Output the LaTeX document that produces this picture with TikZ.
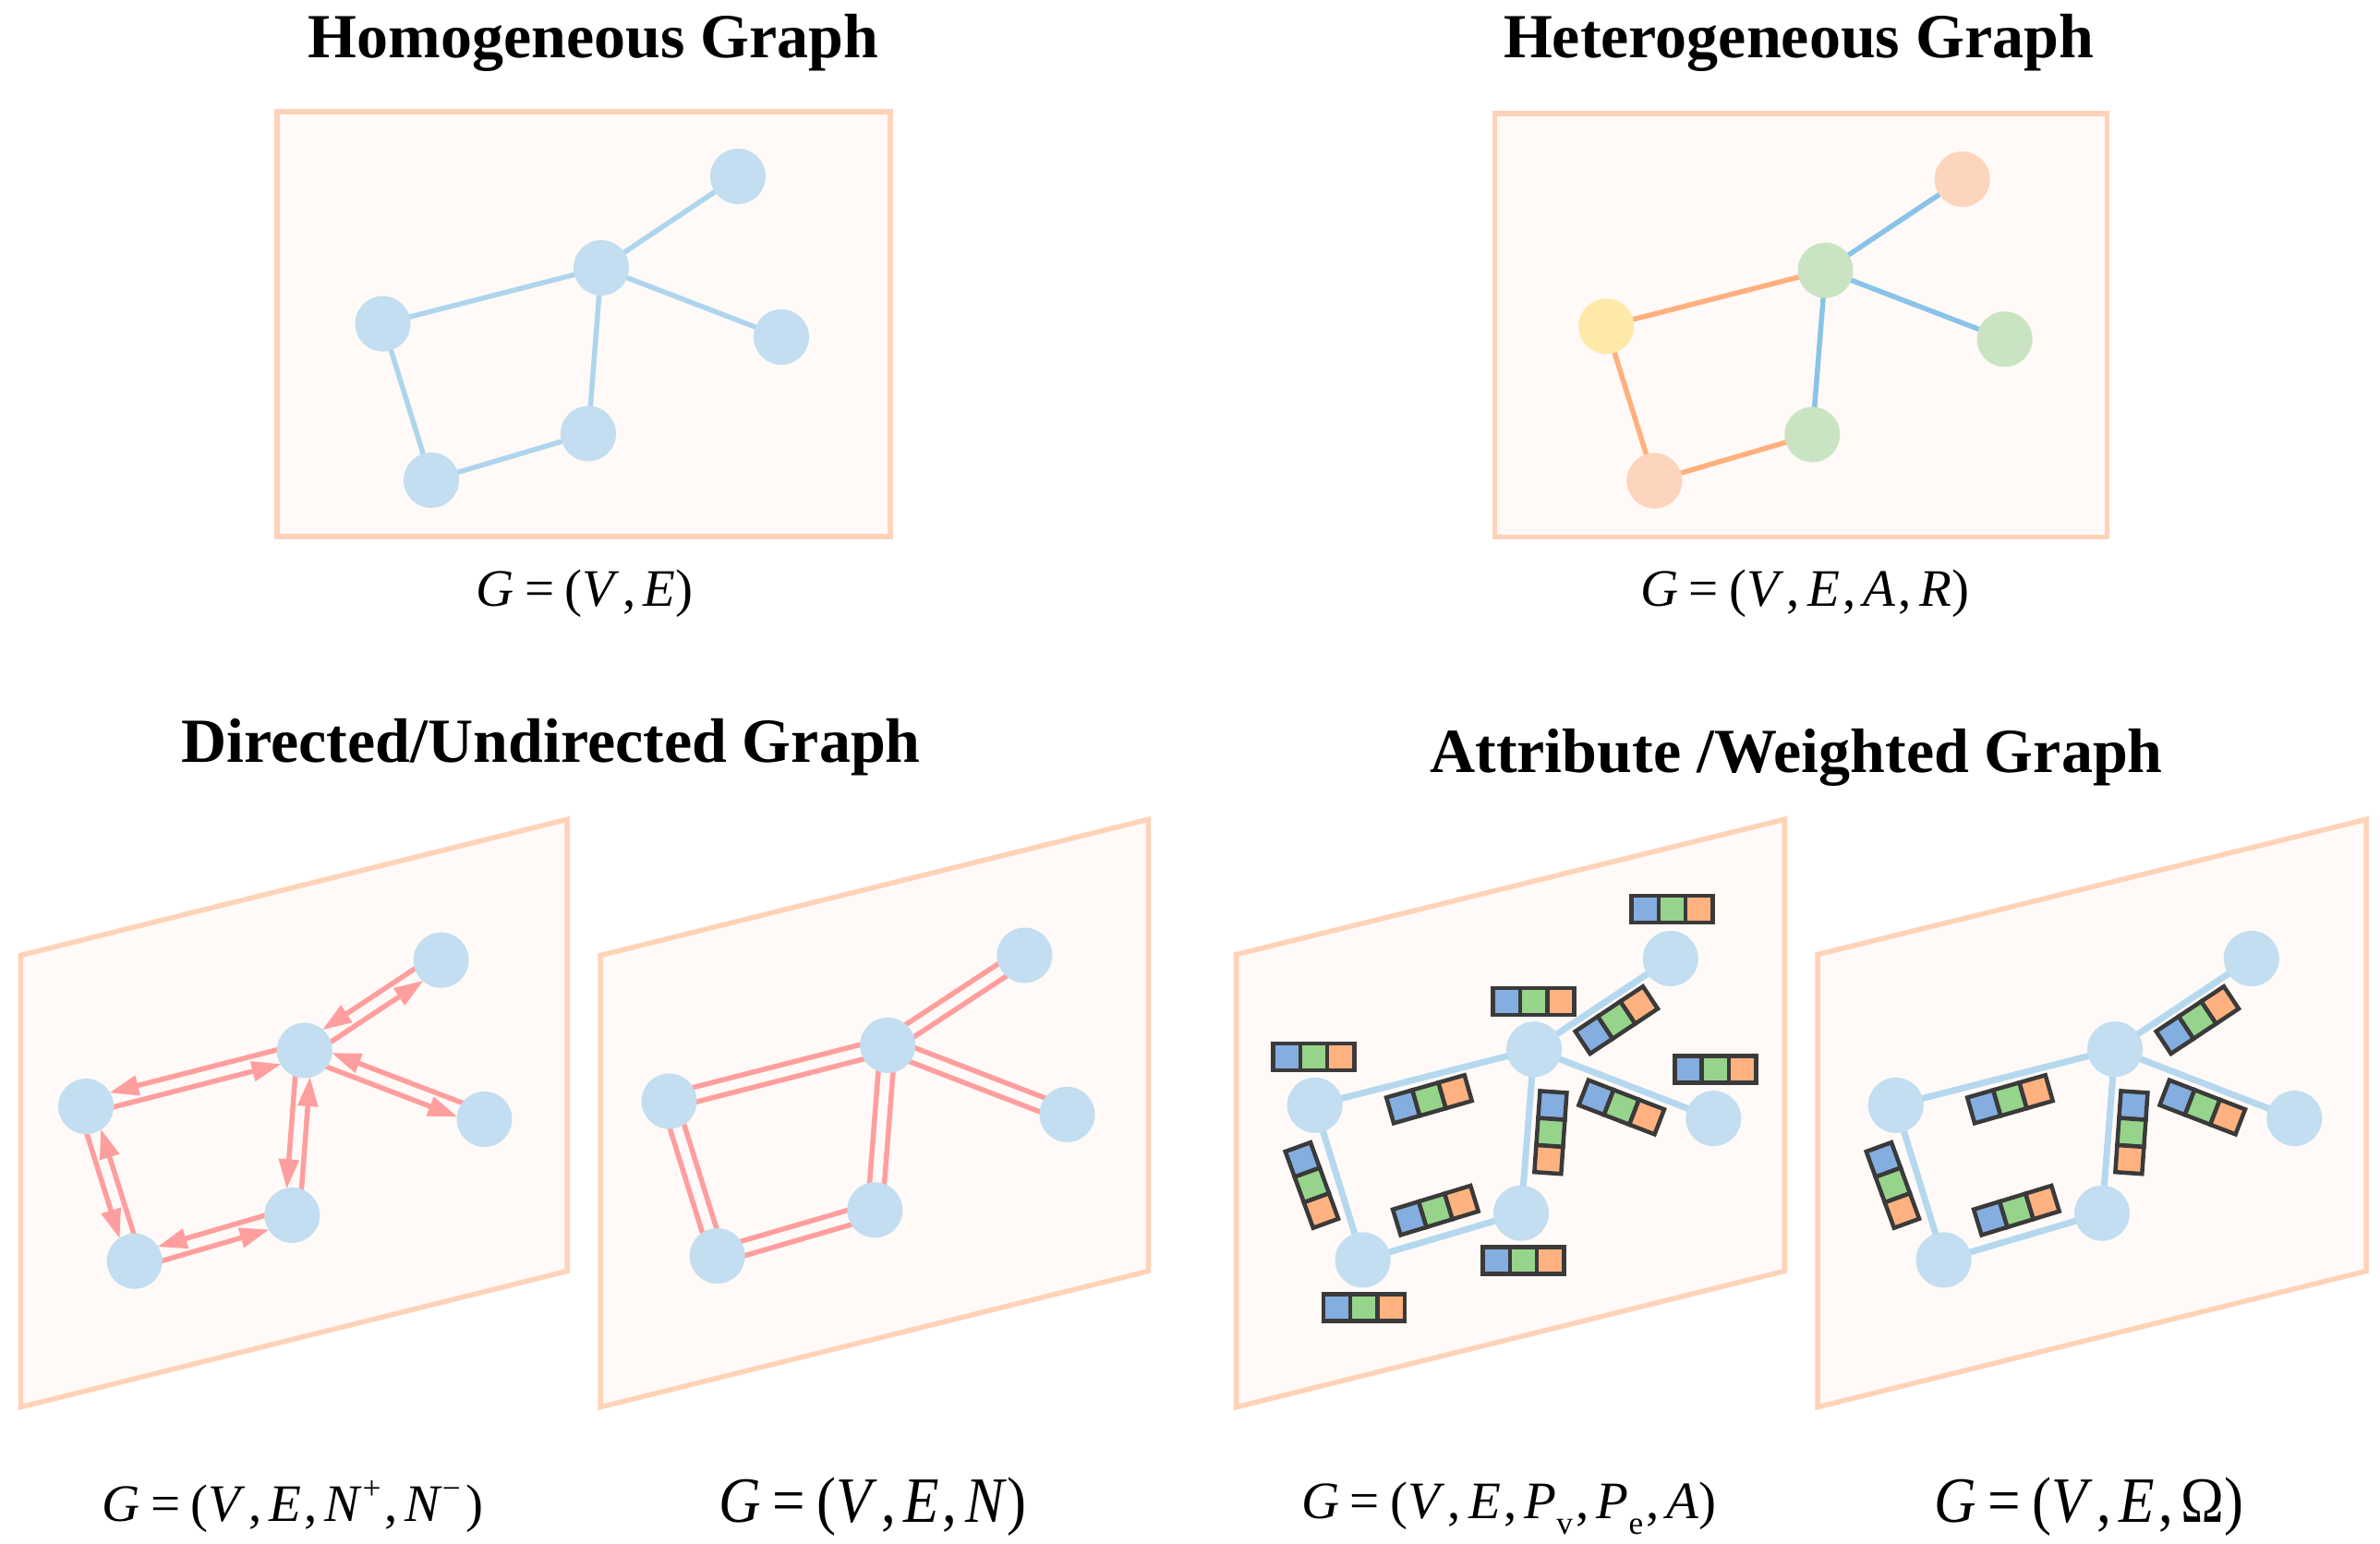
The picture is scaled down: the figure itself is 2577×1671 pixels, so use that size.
\documentclass[tikz,border=0pt]{standalone}
\usepackage{fontspec}
\setmainfont{Liberation Serif}
\usepackage{graphicx}
\usetikzlibrary{arrows.meta,calc}
\pgfdeclarelayer{panels}
\pgfdeclarelayer{edges}
\pgfsetlayers{panels,edges,main}

\definecolor{boxline}{HTML}{FFD3B8}
\definecolor{boxfill}{HTML}{FFFAF7}
\definecolor{nblue}{HTML}{C2DEF0}
\definecolor{eblue}{HTML}{AED5EE}
\definecolor{eblueb}{HTML}{B5D8EF}
\definecolor{hblue}{HTML}{8AC3E8}
\definecolor{horange}{HTML}{FFB07E}
\definecolor{npeach}{HTML}{FDD4BC}
\definecolor{ngreen}{HTML}{CAE4C3}
\definecolor{nyellow}{HTML}{FFE9A9}
\definecolor{pinkc}{HTML}{FF9E9E}
\definecolor{barb}{HTML}{84ADE0}
\definecolor{barg}{HTML}{97D48B}
\definecolor{baro}{HTML}{FFB27F}
\definecolor{barline}{HTML}{3A3A3A}

\newcommand{\mi}[1]{\textit{#1}}
\newcommand{\eqsign}{\hspace{0.2em}=\hspace{0.2em}}
\newcommand{\fcomma}{\hspace{0.06em},\hspace{0.14em}}
\newcommand{\supp}[1]{\raisebox{0.42em}{\scalebox{0.62}{#1}}}
\newcommand{\subb}[1]{\raisebox{-0.3em}{\scalebox{0.62}{#1}}}

\newcommand{\biarrow}[2]{%
  \draw[arr] ($(#1)!8pt!-90:(#2)$) -- ($(#2)!8pt!90:(#1)$);
  \draw[arr] ($(#2)!8pt!-90:(#1)$) -- ($(#1)!8pt!90:(#2)$);
}
\newcommand{\dbline}[2]{%
  \draw[dbl] ($(#1)!8pt!-90:(#2)$) -- ($(#2)!8pt!90:(#1)$);
  \draw[dbl] ($(#1)!8pt!90:(#2)$) -- ($(#2)!8pt!-90:(#1)$);
}

\tikzset{
  panel/.style={draw=boxline, line width=5.5pt, fill=boxfill, line join=miter},
  vtx/.style={circle, minimum size=60pt, inner sep=0pt, fill=nblue},
  ed/.style={draw=eblue, line width=5.5pt},
  edb/.style={draw=eblueb, line width=7pt},
  hb/.style={draw=hblue, line width=5.5pt},
  ho/.style={draw=horange, line width=5.5pt},
  arr/.style={draw=pinkc, line width=5.5pt, -{Triangle[length=32pt,width=21pt]},
              fill=pinkc, shorten <=27pt, shorten >=28pt},
  dbl/.style={draw=pinkc, line width=5.5pt},
  title/.style={font=\fontsize{68}{80}\selectfont\bfseries, anchor=base},
  formula/.style={font=\fontsize{57}{68}\selectfont, anchor=base},
  formulab/.style={font=\fontsize{70}{84}\selectfont, anchor=base, xscale=0.9},
  attrbar/.pic={
    \draw[barline, line width=4.5pt, fill=barb] (-44,-14.5) rectangle (-14.7,14.5);
    \draw[barline, line width=4.5pt, fill=barg] (-14.7,-14.5) rectangle (14.7,14.5);
    \draw[barline, line width=4.5pt, fill=baro] (14.7,-14.5) rectangle (44,14.5);
  }
}

\begin{document}
\begin{tikzpicture}[x=1pt,y=-1pt]
\useasboundingbox (0,0) rectangle (2577,1671);

% ---------- titles ----------
\node[title] (t1) at (642.6,62) {Homogeneous Graph};
\node[title] (t2) at (1947.5,62) {Heterogeneous Graph};
\node[title] (t3) at (596.6,825) {Directed/Undirected Graph};
\node[title] (t4) at (1945,836) {Attribute /Weighted Graph};

% ---------- panels ----------
\begin{pgfonlayer}{panels}
\draw[panel] (300,121) rectangle (964,581);
\draw[panel] (1618.5,123) rectangle (2281.5,581.5);
\draw[panel] (22.4,1034.5) -- (614,887.3) -- (614,1376.5) -- (22.4,1523.7) -- cycle;
\draw[panel] (650.2,1034.5) -- (1243.3,887.3) -- (1243.3,1376.5) -- (650.2,1523.7) -- cycle;
\draw[panel] (1338.7,1033.6) -- (1932,887.3) -- (1932,1376.5) -- (1338.7,1523.7) -- cycle;
\draw[panel] (1968,1033.6) -- (2562,887.3) -- (2562,1376.5) -- (1968,1523.7) -- cycle;
\end{pgfonlayer}

% ---------- homogeneous ----------
\node[vtx] (h1) at (799,191) {};
\node[vtx] (h2) at (651,290) {};
\node[vtx] (h3) at (414.5,350.6) {};
\node[vtx] (h4) at (846,365) {};
\node[vtx] (h5) at (637,469.5) {};
\node[vtx] (h6) at (467,520) {};
\begin{pgfonlayer}{edges}
\draw[ed] (h2.center) -- (h1.center);
\draw[ed] (h2.center) -- (h3.center);
\draw[ed] (h2.center) -- (h4.center);
\draw[ed] (h2.center) -- (h5.center);
\draw[ed] (h3.center) -- (h6.center);
\draw[ed] (h6.center) -- (h5.center);
\end{pgfonlayer}

% ---------- heterogeneous ----------
\node[vtx, fill=npeach] (e1) at (2124.7,194) {};
\node[vtx, fill=ngreen] (e2) at (1976.5,292.7) {};
\node[vtx, fill=nyellow] (e3) at (1739.2,353.3) {};
\node[vtx, fill=ngreen] (e4) at (2170.6,367.3) {};
\node[vtx, fill=ngreen] (e5) at (1962.3,470.6) {};
\node[vtx, fill=npeach] (e6) at (1791.4,520.6) {};
\begin{pgfonlayer}{edges}
\draw[hb] (e2.center) -- (e1.center);
\draw[ho] (e2.center) -- (e3.center);
\draw[hb] (e2.center) -- (e4.center);
\draw[hb] (e2.center) -- (e5.center);
\draw[ho] (e3.center) -- (e6.center);
\draw[ho] (e6.center) -- (e5.center);
\end{pgfonlayer}

% ---------- directed ----------
\node[vtx] (a1) at (477.6,1039.7) {};
\node[vtx] (a2) at (329.8,1137.5) {};
\node[vtx] (a3) at (93.1,1198.1) {};
\node[vtx] (a4) at (524.5,1212) {};
\node[vtx] (a5) at (316.3,1315.9) {};
\node[vtx] (a6) at (145.7,1365.7) {};
\begin{pgfonlayer}{edges}
\biarrow{a2}{a1}
\biarrow{a2}{a3}
\biarrow{a2}{a4}
\biarrow{a2}{a5}
\biarrow{a3}{a6}
\biarrow{a6}{a5}
\end{pgfonlayer}

% ---------- undirected ----------
\node[vtx] (b1) at (1109.4,1034.5) {};
\node[vtx] (b2) at (961.2,1131.9) {};
\node[vtx] (b3) at (724.5,1192.5) {};
\node[vtx] (b4) at (1155.5,1206.8) {};
\node[vtx] (b5) at (947.3,1310.3) {};
\node[vtx] (b6) at (776.7,1360) {};
\begin{pgfonlayer}{edges}
\dbline{b2}{b1}
\dbline{b2}{b3}
\dbline{b2}{b4}
\dbline{b2}{b5}
\dbline{b3}{b6}
\dbline{b6}{b5}
\end{pgfonlayer}

% ---------- attribute ----------
\node[vtx] (c1) at (1808.8,1038) {};
\node[vtx] (c2) at (1661.1,1136.2) {};
\node[vtx] (c3) at (1423.7,1196.8) {};
\node[vtx] (c4) at (1855.3,1211.1) {};
\node[vtx] (c5) at (1647,1313.7) {};
\node[vtx] (c6) at (1475.6,1364.4) {};
\begin{pgfonlayer}{edges}
\draw[edb] (c2.center) -- (c1.center);
\draw[edb] (c2.center) -- (c3.center);
\draw[edb] (c2.center) -- (c4.center);
\draw[edb] (c2.center) -- (c5.center);
\draw[edb] (c3.center) -- (c6.center);
\draw[edb] (c6.center) -- (c5.center);
\end{pgfonlayer}
\pic at (1810.5,984.7) {attrbar};
\pic at (1660.7,1084.3) {attrbar};
\pic at (1422.5,1144.5) {attrbar};
\pic at (1857.3,1157.9) {attrbar};
\pic at (1649.5,1364.8) {attrbar};
\pic at (1476.8,1415.9) {attrbar};
\pic[rotate=33.6] at (1750.3,1104.6) {attrbar};
\pic[rotate=16] at (1547.4,1190.3) {attrbar};
\pic[rotate=-21.1] at (1755.7,1199) {attrbar};
\pic[rotate=-94] at (1678.9,1226.3) {attrbar};
\pic[rotate=-70] at (1420.4,1283.4) {attrbar};
\pic[rotate=17] at (1554.4,1310.7) {attrbar};

% ---------- weighted ----------
\node[vtx] (d1) at (2437.8,1038) {};
\node[vtx] (d2) at (2290.1,1136.2) {};
\node[vtx] (d3) at (2052.7,1196.8) {};
\node[vtx] (d4) at (2484.3,1211.1) {};
\node[vtx] (d5) at (2276,1313.7) {};
\node[vtx] (d6) at (2104.6,1364.4) {};
\begin{pgfonlayer}{edges}
\draw[edb] (d2.center) -- (d1.center);
\draw[edb] (d2.center) -- (d3.center);
\draw[edb] (d2.center) -- (d4.center);
\draw[edb] (d2.center) -- (d5.center);
\draw[edb] (d3.center) -- (d6.center);
\draw[edb] (d6.center) -- (d5.center);
\end{pgfonlayer}
\pic[rotate=33.6] at (2379.3,1104.6) {attrbar};
\pic[rotate=16] at (2176.4,1190.3) {attrbar};
\pic[rotate=-21.1] at (2384.7,1199) {attrbar};
\pic[rotate=-94] at (2307.9,1226.3) {attrbar};
\pic[rotate=-70] at (2049.4,1283.4) {attrbar};
\pic[rotate=17] at (2183.4,1310.7) {attrbar};

% ---------- formulas ----------
\node[formula] (f1) at (633,656) {\mi{G}\eqsign(\mi{V}\fcomma\mi{E})};
\node[formula] (f2) at (1954,656) {\mi{G}\eqsign(\mi{V}\fcomma\mi{E}\fcomma\mi{A}\fcomma\mi{R})};
\node[formula] (fa) at (317,1647) {\mi{G}\eqsign(\mi{V}\fcomma\mi{E}\fcomma\mi{N}\supp{+}\fcomma\mi{N}\supp{−}\hspace{0.1em})};
\node[formulab] (fb) at (945,1648) {\mi{G}\eqsign(\mi{V}\fcomma\mi{E}\fcomma\mi{N})};
\node[formula] (fc) at (1634,1644) {\mi{G}\eqsign(\mi{V}\fcomma\mi{E}\fcomma\mi{P}\subb{v}\fcomma\mi{P}\subb{e}\fcomma\mi{A})};
\node[formulab] (fd) at (2262,1648) {\mi{G}\eqsign(\mi{V}\fcomma\mi{E}\fcomma Ω)};
\end{tikzpicture}
\end{document}
